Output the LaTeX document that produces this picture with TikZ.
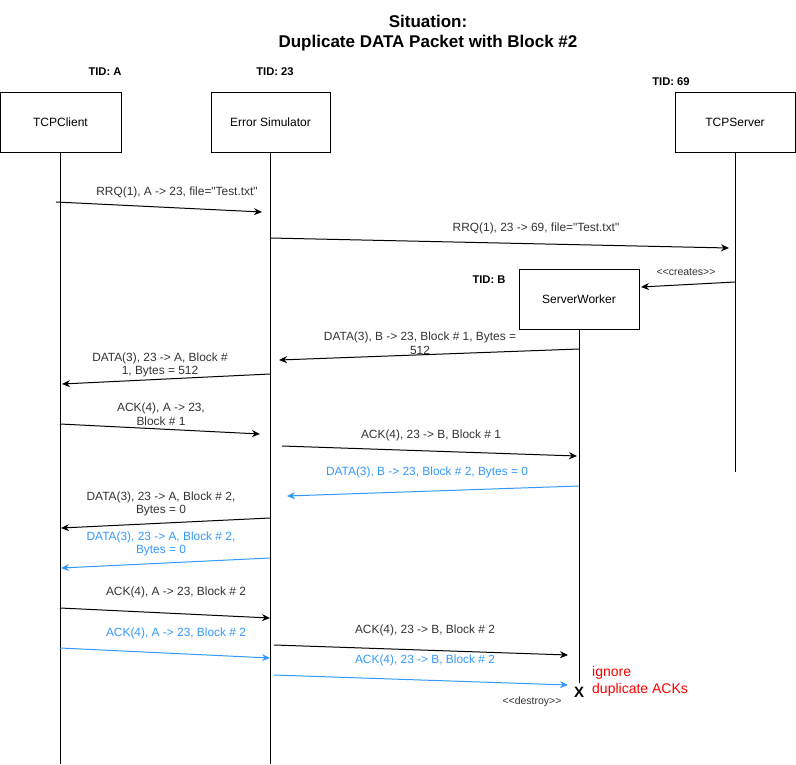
\documentclass[tikz,border=0pt]{standalone}
\usepackage{fontspec}
\setmainfont{Liberation Sans}[Ligatures=TeXOff]
\usetikzlibrary{arrows.meta}
\definecolor{msgblue}{HTML}{3399FF}
\definecolor{notered}{HTML}{FF0000}
\definecolor{txtgray}{HTML}{333333}
\begin{document}
\begin{tikzpicture}[x=1pt,y=-1pt,
  box/.style={draw, line width=1pt, minimum width=120pt, minimum height=60pt, font=\fontsize{12}{14}\selectfont, inner sep=0pt},
  life/.style={line width=1pt},
  msg/.style={line width=1pt, -{Stealth[length=8pt,width=7pt]}},
  bluemsg/.style={msg, draw=msgblue},
  lbl/.style={font=\fontsize{11.9}{13.5}\selectfont, align=center, text=txtgray, inner sep=0pt},
  bluelbl/.style={lbl, text=msgblue},
  tid/.style={font=\bfseries\fontsize{11.2}{13}\selectfont, inner sep=0pt},
  small/.style={font=\fontsize{10.5}{12}\selectfont, inner sep=0pt, text=txtgray}
]
\useasboundingbox (0,0) rectangle (796,764);

% title
\node[font=\bfseries\fontsize{17}{20.5}\selectfont, align=center, inner sep=0pt] (title) at (428,33) {Situation:\\Duplicate DATA Packet with Block \#2};

% TIDs
\node[tid] (tida) at (105,72) {TID: A};
\node[tid] (tid23) at (275,72) {TID: 23};
\node[tid] (tid69) at (671,82) {TID: 69};
\node[tid] (tidb) at (489,280) {TID: B};

% participants
\node[box, minimum width=121pt] (cl) at (60.5,122) {TCPClient};
\node[box, minimum width=119pt] (es) at (270.5,122) {Error Simulator};
\node[box] (sv) at (735,122) {TCPServer};
\node[box] (sw) at (579,299) {ServerWorker};

% lifelines
\coordinate (clend) at (60.5,764);
\coordinate (esend) at (270.5,764);
\coordinate (svend) at (735,472);
\coordinate (swend) at (579,683);
\draw[life] (cl.south) -- (clend);
\draw[life] (es.south) -- (esend);
\draw[life] (sv.south) -- (svend);
\draw[life] (sw.south) -- (swend);

% message end points
\coordinate (m1a) at (56,202);   \coordinate (m1b) at (262,212);
\coordinate (m2a) at (270,238);  \coordinate (m2b) at (729,248);
\coordinate (m3a) at (735,282);  \coordinate (m3b) at (641,287);
\coordinate (m4a) at (579,349);  \coordinate (m4b) at (279,360);
\coordinate (m5a) at (270,374);  \coordinate (m5b) at (62,384);
\coordinate (m6a) at (60,424);   \coordinate (m6b) at (260,434);
\coordinate (m7a) at (282,446);  \coordinate (m7b) at (577,456);
\coordinate (m8a) at (579,486);  \coordinate (m8b) at (287,496);
\coordinate (m9a) at (270,518);  \coordinate (m9b) at (61,528);
\coordinate (m10a) at (270,558); \coordinate (m10b) at (61,568);
\coordinate (m11a) at (60,608);  \coordinate (m11b) at (270,618);
\coordinate (m12a) at (60,648);  \coordinate (m12b) at (270,658);
\coordinate (m13a) at (274,645); \coordinate (m13b) at (568,655);
\coordinate (m14a) at (274,675); \coordinate (m14b) at (568,685);

% messages
\draw[msg] (m1a) -- (m1b);
\node[lbl] (l1) at (177,192) {RRQ(1), A -> 23, file="Test.txt"};
\draw[msg] (m2a) -- (m2b);
\node[lbl] (l2) at (536,228) {RRQ(1), 23 -> 69, file="Test.txt"};
\draw[msg] (m3a) -- (m3b);
\node[small] (l3) at (686,272) {<{}<creates>{}>};
\draw[msg] (m4a) -- (m4b);
\node[lbl] (l4) at (420,343) {DATA(3), B -> 23, Block \# 1, Bytes =\\512};
\draw[msg] (m5a) -- (m5b);
\node[lbl] (l5) at (160,365) {DATA(3), 23 -> A, Block \#\\1, Bytes = 512};
\draw[msg] (m6a) -- (m6b);
\node[lbl] (l6) at (161,414) {ACK(4), A -> 23,\\Block \# 1};
\draw[msg] (m7a) -- (m7b);
\node[lbl] (l7) at (431,435) {ACK(4), 23 -> B, Block \# 1};
\draw[bluemsg] (m8a) -- (m8b);
\node[bluelbl] (l8) at (427,472) {DATA(3), B -> 23, Block \# 2, Bytes = 0};
\draw[msg] (m9a) -- (m9b);
\node[lbl] (l9) at (161,504) {DATA(3), 23 -> A, Block \# 2,\\Bytes = 0};
\draw[bluemsg] (m10a) -- (m10b);
\node[bluelbl] (l10) at (161,544) {DATA(3), 23 -> A, Block \# 2,\\Bytes = 0};
\draw[msg] (m11a) -- (m11b);
\node[lbl] (l11) at (176,592) {ACK(4), A -> 23, Block \# 2};
\draw[bluemsg] (m12a) -- (m12b);
\node[bluelbl] (l12) at (176,633) {ACK(4), A -> 23, Block \# 2};
\draw[msg] (m13a) -- (m13b);
\node[lbl] (l13) at (425,630) {ACK(4), 23 -> B, Block \# 2};
\draw[bluemsg] (m14a) -- (m14b);
\node[bluelbl] (l14) at (425,660) {ACK(4), 23 -> B, Block \# 2};

% destroy
\node[font=\bfseries\fontsize{15}{18}\selectfont, inner sep=0pt] (xmark) at (579,692) {X};
\node[small] (destroy) at (532,702) {<{}<destroy>{}>};
\node[font=\fontsize{14}{17}\selectfont, text=notered, align=left, anchor=west, inner sep=0pt] (ignore) at (592,681) {ignore\\duplicate ACKs};
\end{tikzpicture}
\end{document}
